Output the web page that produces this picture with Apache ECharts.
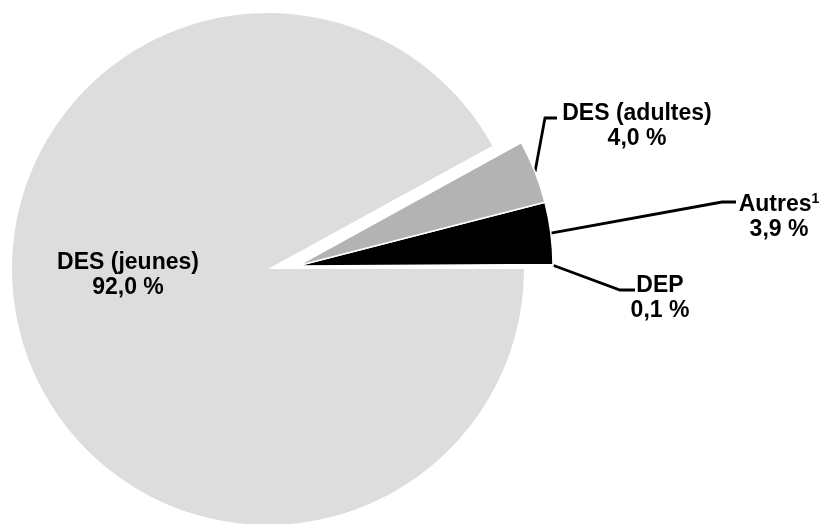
<!DOCTYPE html>
<html>
<head>
<meta charset="utf-8">
<script src="https://cdn.jsdelivr.net/npm/echarts@6/dist/echarts.min.js"></script>
<style>
  html, body { margin: 0; padding: 0; background: #ffffff; }
  #chart { width: 821px; height: 524px; }
</style>
</head>
<body>
<div id="chart"></div>
<script>
// Répartition des diplômes (en %)
const categories = ['DEP', 'Autres', 'DES (adultes)', 'DES (jeunes)'];
const footnotes = ['', '1', '', ''];
const shares = [0.1, 3.9, 4.0, 92.0];

// Appearance
const sliceColors = ['#d6d6d6', '#000000', '#b3b3b3', '#dddddd'];
const mainCenter = [268, 269];      // main slice
const detachedCenter = [297, 266];  // small slices pulled out to the right
const pieRadius = 256;

// Label placement: text centre and the elbow of each leader line
const labelCenters = [[660, 298], [779, 217], [637, 126], [128, 275]];
const lineElbows = [[[620, 290], [635, 290]], [[722, 202], [736, 202]], [[545, 118], [557, 118]], null];

const total = shares.reduce((a, b) => a + b, 0);
const detachedIdx = [0, 1, 2];
const mainIdx = 3;

function midAnglePoint(i, center, r) {
  let before = 0;
  for (let k = 0; k < i; k++) before += shares[k];
  const a = (before + shares[i] / 2) / total * Math.PI * 2;
  return [center[0] + r * Math.cos(a), center[1] - r * Math.sin(a)];
}

function fmt(p) {
  const note = footnotes[p.dataIndex];
  return p.name + (note ? '{sup|' + note + '}' : '') + '\n' +
    p.value.toFixed(1).replace('.', ',') + ' %';
}

const labelFont = {
  color: '#000000',
  fontFamily: '"Liberation Sans", Arial, sans-serif',
  fontWeight: 'bold',
  fontSize: 23,
  lineHeight: 25,
  rich: {
    sup: {
      color: '#000000',
      fontFamily: '"Liberation Sans", Arial, sans-serif',
      fontWeight: 'bold',
      fontSize: 14,
      lineHeight: 14,
      verticalAlign: 'top'
    }
  }
};

const hidden = { color: 'rgba(0,0,0,0)', borderWidth: 0 };

const mainData = categories.map((name, i) => ({
  name: name,
  value: shares[i],
  itemStyle: i === mainIdx ? { color: sliceColors[i] } : hidden,
  label: { show: i === mainIdx },
  labelLine: { show: false }
}));

const detachedData = categories.map((name, i) => ({
  name: name,
  value: shares[i],
  itemStyle: detachedIdx.includes(i)
    ? { color: sliceColors[i], borderColor: '#ffffff', borderWidth: 1.5 }
    : hidden,
  label: { show: detachedIdx.includes(i) },
  labelLine: { show: detachedIdx.includes(i) }
}));

const chart = echarts.init(document.getElementById('chart'), null, { renderer: 'canvas' });

chart.setOption({
  backgroundColor: '#ffffff',
  animation: false,
  series: [
    {
      type: 'pie',
      silent: true,
      center: mainCenter,
      radius: pieRadius,
      startAngle: 0,
      clockwise: false,
      avoidLabelOverlap: false,
      emphasis: { disabled: true },
      label: Object.assign({ position: 'inside', formatter: fmt }, labelFont),
      labelLayout: function (params) {
        const c = labelCenters[params.dataIndex];
        return { x: c[0], y: c[1], align: 'center', verticalAlign: 'middle' };
      },
      data: mainData
    },
    {
      type: 'pie',
      silent: true,
      center: detachedCenter,
      radius: pieRadius,
      startAngle: 0,
      clockwise: false,
      avoidLabelOverlap: false,
      emphasis: { disabled: true },
      label: Object.assign({ position: 'outside', formatter: fmt }, labelFont),
      labelLine: {
        show: true,
        length: 20,
        length2: 10,
        lineStyle: { color: '#000000', width: 2.8 }
      },
      labelLayout: function (params) {
        const i = params.dataIndex;
        const c = labelCenters[i];
        const res = { x: c[0], y: c[1], align: 'center', verticalAlign: 'middle' };
        if (lineElbows[i]) {
          const start = midAnglePoint(i, detachedCenter, pieRadius);
          res.labelLinePoints = [start, lineElbows[i][0], lineElbows[i][1]];
        }
        return res;
      },
      data: detachedData
    }
  ]
});
</script>
</body>
</html>
